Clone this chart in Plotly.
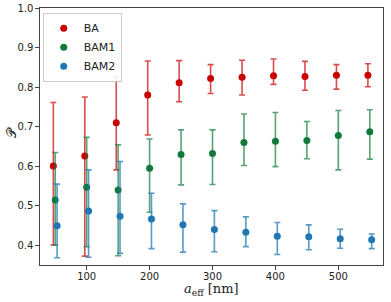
import plotly.graph_objects as go

x_ba = [47, 97, 147, 197, 247, 297, 347, 397, 447, 497, 547]
x_bam1 = [50, 100, 150, 200, 250, 300, 350, 400, 450, 500, 550]
x_bam2 = [53, 103, 153, 203, 253, 303, 353, 403, 453, 503, 553]

ba_y = [0.601, 0.626, 0.710, 0.780, 0.811, 0.822, 0.825, 0.829, 0.827, 0.830, 0.830]
ba_hi = [0.761, 0.775, 0.826, 0.866, 0.867, 0.857, 0.868, 0.871, 0.865, 0.857, 0.859]
ba_lo = [0.401, 0.373, 0.591, 0.679, 0.763, 0.784, 0.780, 0.807, 0.792, 0.795, 0.801]

bam1_y = [0.515, 0.547, 0.540, 0.595, 0.630, 0.632, 0.660, 0.663, 0.665, 0.678, 0.687]
bam1_hi = [0.635, 0.673, 0.654, 0.669, 0.692, 0.692, 0.732, 0.736, 0.713, 0.741, 0.743]
bam1_lo = [0.401, 0.397, 0.374, 0.484, 0.553, 0.554, 0.602, 0.599, 0.619, 0.591, 0.618]

bam2_y = [0.450, 0.487, 0.474, 0.467, 0.452, 0.440, 0.433, 0.423, 0.422, 0.417, 0.414]
bam2_hi = [0.555, 0.591, 0.612, 0.532, 0.505, 0.488, 0.472, 0.458, 0.452, 0.441, 0.429]
bam2_lo = [0.369, 0.370, 0.380, 0.392, 0.383, 0.384, 0.397, 0.377, 0.389, 0.393, 0.392]

series = [
    ("BA", x_ba, ba_y, ba_hi, ba_lo, "#c80000", "rgba(200,0,0,0.7)"),
    ("BAM1", x_bam1, bam1_y, bam1_hi, bam1_lo, "#117a3b", "rgba(17,122,59,0.7)"),
    ("BAM2", x_bam2, bam2_y, bam2_hi, bam2_lo, "#1f77b4", "rgba(31,119,180,0.75)"),
]

fig = go.Figure()
for name, xs, ys, hi, lo, col, ecol in series:
    fig.add_trace(go.Scatter(
        x=xs, y=ys, mode="markers", name=name,
        marker=dict(color=col, size=7),
        error_y=dict(type="data", symmetric=False,
                     array=[h - v for h, v in zip(hi, ys)],
                     arrayminus=[v - l for v, l in zip(ys, lo)],
                     color=ecol, thickness=1.6, width=3),
    ))

axis_common = dict(showgrid=False, zeroline=False, showline=True, mirror=True,
                   linecolor="#444", linewidth=1.2, ticks="outside", ticklen=3.5,
                   tickcolor="#444", automargin=False,
                   tickfont=dict(family="DejaVu Sans", size=10, color="#222"))

fig.update_layout(
    width=391, height=302,
    margin=dict(l=40, r=8, t=8, b=37),
    paper_bgcolor="white", plot_bgcolor="white",
    xaxis=dict(range=[25.8, 571], tickvals=[100, 200, 300, 400, 500],
               ticklabelstandoff=-2, **axis_common),
    yaxis=dict(range=[0.3505, 1.0], tickvals=[0.4, 0.5, 0.6, 0.7, 0.8, 0.9, 1.0],
               tickformat=".1f", **axis_common),
    legend=dict(x=0.008, y=0.982, xanchor="left", yanchor="top",
                bgcolor="rgba(255,255,255,0.9)", bordercolor="#ccc", borderwidth=1,
                font=dict(family="DejaVu Sans", size=11, color="#222"),
                itemwidth=30, tracegroupgap=0),
    showlegend=True,
    annotations=[
        dict(text="<i>a</i><sub>eff</sub> [nm]", xref="paper", yref="paper",
             x=(211 - 40) / 343, y=-(289 - 265) / 257, xanchor="center", yanchor="middle",
             showarrow=False, font=dict(family="DejaVu Serif", size=13, color="#222")),
        dict(text="𝒫", xref="paper", yref="paper",
             x=-(40 - 11) / 343, y=(265 - 133) / 257, xanchor="center", yanchor="middle",
             textangle=-90, showarrow=False,
             font=dict(family="DejaVu Serif", size=13, color="#222")),
    ],
)

fig.write_html("out.html", config={"displayModeBar": False})

with open("out.html", "r", encoding="utf-8") as f:
    html = f.read()
html = html.replace("<head>", "<head><style>html,body{margin:0;padding:0;overflow:hidden;}</style>", 1)
with open("out.html", "w", encoding="utf-8") as f:
    f.write(html)
